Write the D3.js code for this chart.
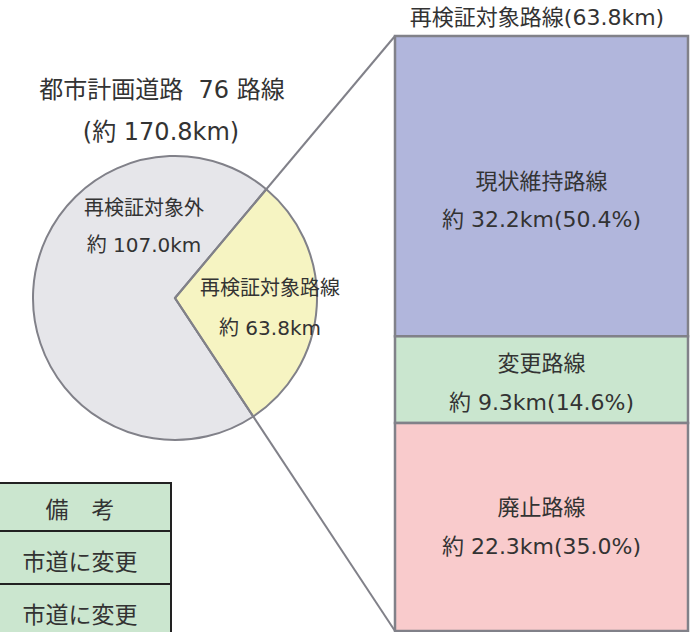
<!DOCTYPE html>
<html><head><meta charset="utf-8">
<script src="https://cdn.jsdelivr.net/npm/d3@7"></script>
<style>
html,body{margin:0;padding:0;background:#fff;}
text{font-family:"DejaVu Sans","Noto Sans CJK JP",sans-serif;fill:#333;white-space:pre;}
</style></head>
<body><svg id="c" width="700" height="632"></svg>
<script>
const titleLines = ["都市計画道路  76 路線", "(約 170.8km)"];
const pieLabels = ["再検証対象外", "再検証対象路線"];
const pieValues = [107.0, 63.8];
const barTitle = "再検証対象路線(63.8km)";
const barCategories = ["現状維持路線", "変更路線", "廃止路線"];
const barValues = [32.2, 9.3, 22.3];
const barPercents = [50.4, 14.6, 35.0];
const tableRows = ["備　考", "市道に変更", "市道に変更"];

const pieColors = ["#e6e6ea", "#f6f4c2"];
const barColors = ["#b1b6dc", "#cae6cf", "#f9cbcc"];
const strokeCol = "#818189";

const svg = d3.select("#c");
const cx = 175, cy = 298, R = 142;
const barX0 = 395, barX1 = 688;

// bar scale
const total = d3.sum(barValues);
const y = d3.scaleLinear().domain([0, total]).range([36, 631]);
let acc = 0;
const segs = barValues.map((v, i) => { const s = {i, v, y0: y(acc), y1: y(acc + v)}; acc += v; return s; });

// pie angles from connector geometry (slice edges align with connectors to bar corners)
const angTop = Math.atan2(barX0 - cx, cy - y(0));
const angBot = Math.atan2(barX0 - cx, cy - y(total));
const arc = d3.arc().innerRadius(0).outerRadius(R);
const slices = [
  {start: angBot, end: angTop + 2 * Math.PI, i: 0},
  {start: angTop, end: angBot, i: 1}
];
const g = svg.append("g").attr("transform", `translate(${cx},${cy})`);
g.selectAll("path").data(slices).join("path")
  .attr("d", d => arc({startAngle: d.start, endAngle: d.end}))
  .attr("fill", d => pieColors[d.i])
  .attr("stroke", strokeCol).attr("stroke-width", 2);

// connectors
[y(0), y(total)].forEach(yy => {
  svg.append("line").attr("x1", cx).attr("y1", cy).attr("x2", barX0).attr("y2", yy)
    .attr("stroke", strokeCol).attr("stroke-width", 2);
});

function label(x, yc, size, txt) {
  svg.append("text").attr("x", x).attr("y", yc).attr("dy", "0.36em")
    .attr("text-anchor", "middle").attr("font-size", size).text(txt);
}

// title
label(162, 89, 24, titleLines[0]);
label(161, 131, 24, titleLines[1]);

// pie labels
const pieLabelPos = [[144, 207.5, 245], [270, 288, 327.5]];
pieLabels.forEach((l, i) => {
  label(pieLabelPos[i][0], pieLabelPos[i][1], 20, l);
  label(pieLabelPos[i][0], pieLabelPos[i][2], 20, "約 " + d3.format(".1f")(pieValues[i]) + "km");
});

// bar
svg.selectAll("rect.seg").data(segs).join("rect").attr("class", "seg")
  .attr("x", barX0).attr("width", barX1 - barX0)
  .attr("y", d => d.y0).attr("height", d => d.y1 - d.y0)
  .attr("fill", d => barColors[d.i]).attr("stroke", strokeCol).attr("stroke-width", 2.5);
const bcx = (barX0 + barX1) / 2;
const labelOff = [[-5, 33], [-16.5, 22.5], [-20, 19]];
segs.forEach(s => {
  const m = (s.y0 + s.y1) / 2;
  label(bcx, m + labelOff[s.i][0], 22, barCategories[s.i]);
  label(bcx, m + labelOff[s.i][1], 22,
    "約 " + d3.format(".1f")(s.v) + "km(" + d3.format(".1f")(barPercents[s.i]) + "%)");
});
label(537, 17.5, 22, barTitle);

// table
const rowY = [483, 531, 584, 637];
tableRows.forEach((t, i) => {
  svg.append("rect").attr("x", -2).attr("y", rowY[i]).attr("width", 173).attr("height", rowY[i + 1] - rowY[i])
    .attr("fill", "#cbe6cf").attr("stroke", "#222").attr("stroke-width", 2);
});
const rowCenters = [510, 562, 615];
tableRows.forEach((t, i) => label(80, rowCenters[i], 23, t));
</script></body></html>
